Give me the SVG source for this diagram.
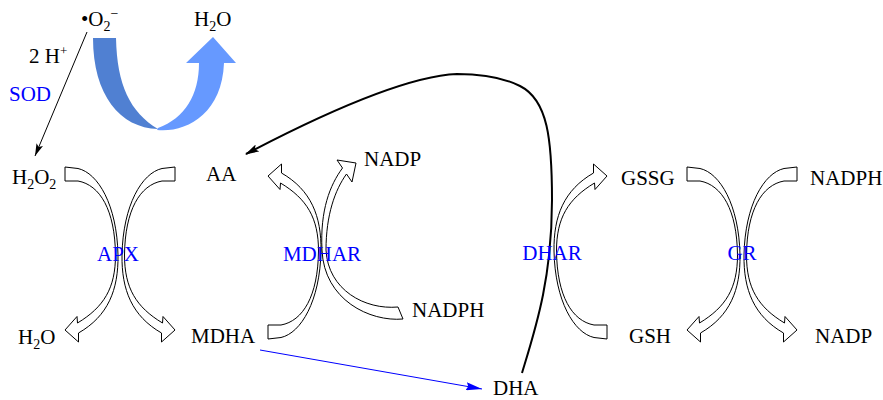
<svg xmlns="http://www.w3.org/2000/svg" width="883" height="400" viewBox="0 0 883 400">
<style>
text{font-family:"Liberation Serif","Times New Roman",serif;font-size:21px;fill:#000}
.enz{fill:#0000ff;text-anchor:middle}
.sod{fill:#0000ff}
.sub{font-size:14px}
.ra{fill:#fff;stroke:#000;stroke-width:1;stroke-linejoin:miter}
.ln{fill:none;stroke:#000;stroke-width:1}
</style>
<defs>
<path id="ca" class="ra" d="M65,167 L78,168.5 C98,173 117,205 118,255 C118.5,290 108,316 78.5,333 L78.5,342 L65,330 L77,316.5 L77.5,323 C104,307 115.5,288 115.5,255 C115,210 100,185 78,181 L65,181 Z"/>
<marker id="ak" viewBox="0 0 14 8" refX="14" refY="4" markerWidth="14" markerHeight="7" orient="auto" markerUnits="userSpaceOnUse"><path d="M0,0 L14,4 L0,8 L3,4 Z" fill="#000"/></marker>
<marker id="ak2" viewBox="0 0 14 8" refX="13" refY="4" markerWidth="7" markerHeight="4" orient="auto" markerUnits="strokeWidth"><path d="M0,0 L14,4 L0,8 L3,4 Z" fill="#000"/></marker>
<marker id="ab" viewBox="0 0 16 8" refX="16" refY="4" markerWidth="16" markerHeight="8" orient="auto" markerUnits="userSpaceOnUse"><path d="M0,0 L16,4 L0,8 L2,4 Z" fill="#0000ff"/></marker>
</defs>

<g id="sod-arrow">
<path d="M93,38 L116,38 C117,85 130,112 158,129 C120,128 93,95 93,38 Z" fill="#5080d2"/>
<path d="M157,130 C185,133 222,115 224,63 L236,63 L213,37 L186,63 L199,63 C199,95 185,118 158,128 Z" fill="#6699ff"/>
</g>

<g id="apx-arrows">
<use href="#ca"/>
<use href="#ca" transform="translate(240,0) scale(-1,1)"/>
</g>
<g id="mdhar-arrows">
<use href="#ca" transform="matrix(1,0,0,-1,203,506)"/>
<path class="ra" d="M398,307 L403,319 C370,322 324,300 322,250 C320,210 330,185 342.5,168 L337,160 L356,163 L352,182 L346.5,174 C335,190 326,215 326,250 C328,290 365,310 398,307 Z"/>
</g>
<g id="dhar-arrow">
<use href="#ca" transform="matrix(-1,0,0,-1,672,506)"/>
</g>
<g id="gr-arrows">
<use href="#ca" transform="translate(622,0)"/>
<use href="#ca" transform="translate(862,0) scale(-1,1)"/>
</g>

<g id="connectors">
<line class="ln" x1="87" y1="32" x2="35" y2="156" marker-end="url(#ak)"/>
<path d="M522,373 C535,330 552,280 552,200 C552,140 548,100 520,86 C500,76 475,74 457,74 C410,76 330,110 246,154" fill="none" stroke="#000" stroke-width="2" marker-end="url(#ak2)"/>
<line x1="260" y1="350" x2="482" y2="389" stroke="#0000ff" stroke-width="1" marker-end="url(#ab)"/>
</g>

<g id="n-o2"><text x="81" y="26">•O<tspan class="sub" dy="5">2</tspan><tspan class="sub" dy="-13">−</tspan></text></g>
<g id="n-h2o-top"><text x="194" y="26">H<tspan class="sub" dy="5">2</tspan><tspan dy="-5">O</tspan></text></g>
<g id="n-2h"><text x="29" y="63">2 H<tspan font-size="13" dy="-8">+</tspan></text></g>
<g id="n-sod"><text class="sod" x="9" y="101">SOD</text></g>
<g id="n-h2o2"><text x="12" y="184">H<tspan class="sub" dy="5">2</tspan><tspan dy="-5">O</tspan><tspan class="sub" dy="5">2</tspan></text></g>
<g id="n-aa"><text x="206" y="181">AA</text></g>
<g id="n-apx"><text class="enz" x="118" y="261">APX</text></g>
<g id="n-h2o"><text x="18" y="344">H<tspan class="sub" dy="5">2</tspan><tspan dy="-5">O</tspan></text></g>
<g id="n-mdha"><text x="191" y="343">MDHA</text></g>
<g id="n-nadp1"><text x="364" y="166">NADP</text></g>
<g id="n-mdhar"><text class="enz" x="322" y="261">MDHAR</text></g>
<g id="n-nadph1"><text x="412" y="317">NADPH</text></g>
<g id="n-dha"><text x="493" y="395">DHA</text></g>
<g id="n-dhar"><text class="enz" x="552" y="260">DHAR</text></g>
<g id="n-gssg"><text x="621" y="185">GSSG</text></g>
<g id="n-gsh"><text x="629" y="343">GSH</text></g>
<g id="n-gr"><text class="enz" x="742" y="260">GR</text></g>
<g id="n-nadph2"><text x="810" y="185">NADPH</text></g>
<g id="n-nadp2"><text x="815" y="343">NADP</text></g>
</svg>
